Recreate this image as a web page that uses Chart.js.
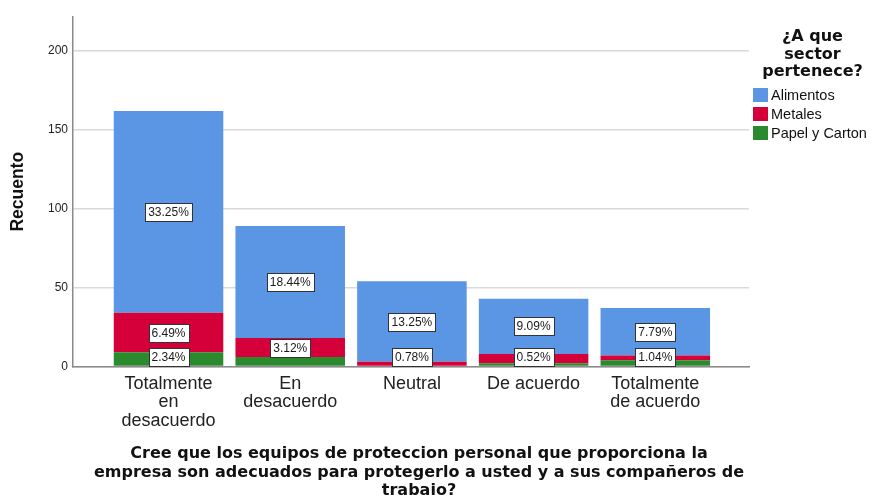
<!DOCTYPE html>
<html>
<head>
<meta charset="utf-8">
<script src="https://cdn.jsdelivr.net/npm/chart.js@4"></script>
<style>
    body { margin: 0; background: #fff; }
    #wrap { position: relative; width: 876px; height: 495px; overflow: hidden; font-family: "Liberation Sans", Arial, sans-serif; }
    #legend { position: absolute; left: 750px; top: 27px; width: 124px; color: #111; }
    #legend .ttl { text-align: center; font-family: "DejaVu Sans", sans-serif; font-weight: bold; font-size: 16px; line-height: 17.5px; margin-left: 1px; }
    #legend .item { position: relative; height: 19px; font-size: 14.5px; line-height: 19px; padding-left: 21px; white-space: nowrap; }
    #legend .item span { position: absolute; left: 3px; top: 2px; width: 15px; height: 14px; }
    #xtitle { position: absolute; left: 0; width: 838px; top: 444px; text-align: center; font-family: "DejaVu Sans", sans-serif; font-weight: bold; font-size: 16px; line-height: 18.5px; color: #111; }
</style>
</head>
<body>
<div id="wrap">
    <canvas id="chart" width="876" height="495"></canvas>
    <div id="legend"></div>
    <div id="xtitle"></div>
</div>
<script>
// categories on the x axis
const categories = [
    ['Totalmente', 'en', 'desacuerdo'],
    ['En', 'desacuerdo'],
    'Neutral',
    'De acuerdo',
    ['Totalmente', 'de acuerdo']
];

// counts per sector (Recuento)
const alimentos = [128, 71, 51, 35, 30];
const metales = [25, 12, 3, 6, 3];
const papel = [9, 6, 0, 2, 4];

// percentage labels as shown on the chart (null = not shown)
const alimentosPct = ['33.25%', '18.44%', '13.25%', '9.09%', '7.79%'];
const metalesPct = ['6.49%', '3.12%', '0.78%', null, null];
const papelPct = ['2.34%', null, null, '0.52%', '1.04%'];

const yTicks = [0, 50, 100, 150, 200];
const legendTitle = ['¿A que', 'sector', 'pertenece?'];
const xTitle = 'Cree que los equipos de proteccion personal que proporciona la<br>empresa son adecuados para protegerlo a usted y a sus compañeros de<br>trabajo?';

const colors = {
    Alimentos: '#5a96e3',
    Metales: '#d5003a',
    'Papel y Carton': '#2c8a2e'
};

// legend (html)
const legendEl = document.getElementById('legend');
legendEl.innerHTML = '<div class="ttl">' + legendTitle.join('<br>') + '</div><div style="height:6px"></div>';
['Alimentos', 'Metales', 'Papel y Carton'].forEach((name) => {
    const item = document.createElement('div');
    item.className = 'item';
    item.innerHTML = `<span style="background:${colors[name]}"></span>${name}`;
    legendEl.appendChild(item);
});
document.getElementById('xtitle').innerHTML = xTitle;

// white boxes with the percentages
const pctLabels = {
    id: 'pctLabels',
    afterDatasetsDraw(chart) {
        const ctx = chart.ctx;
        const zeroY = chart.scales.y.getPixelForValue(0);
        ctx.save();
        ctx.font = '12px "Liberation Sans", Arial, sans-serif';
        ctx.textAlign = 'center';
        ctx.textBaseline = 'middle';
        chart.data.datasets.forEach((ds, d) => {
            const meta = chart.getDatasetMeta(d);
            meta.data.forEach((bar, i) => {
                const txt = ds.pct[i];
                if (!txt) return;
                const boxH = 18;
                const boxW = Math.round(ctx.measureText(txt).width) + 6;
                let cy = (bar.y + bar.base) / 2;
                // keep the box above the axis line
                if (cy + boxH / 2 > zeroY - 1) cy = zeroY - 1 - boxH / 2;
                const bx = Math.round(bar.x - boxW / 2) + 0.5;
                const by = Math.round(cy - boxH / 2) + 0.5;
                ctx.fillStyle = '#fff';
                ctx.fillRect(bx, by, boxW, boxH);
                ctx.strokeStyle = '#333';
                ctx.lineWidth = 1;
                ctx.strokeRect(bx, by, boxW, boxH);
                ctx.fillStyle = '#1a1a1a';
                ctx.fillText(txt, bar.x, by + boxH / 2 + 0.5);
            });
        });
        ctx.restore();
    }
};

const toPoints = (arr) => arr.map((v, i) => ({ x: i, y: v }));

const chartEl = document.getElementById('chart').getContext('2d');
const dataChart = new Chart(chartEl, {
    type: 'bar',
    data: {
        datasets: [{
            label: 'Papel y Carton',
            data: toPoints(papel),
            pct: papelPct,
            backgroundColor: colors['Papel y Carton']
        }, {
            label: 'Metales',
            data: toPoints(metales),
            pct: metalesPct,
            backgroundColor: colors.Metales
        }, {
            label: 'Alimentos',
            data: toPoints(alimentos),
            pct: alimentosPct,
            backgroundColor: colors.Alimentos
        }]
    },
    options: {
        responsive: false,
        animation: false,
        barPercentage: 0.9,
        categoryPercentage: 1,
        layout: { padding: { top: 17, right: 127, left: 0, bottom: 0 } },
        plugins: {
            legend: { display: false },
            tooltip: { enabled: false }
        },
        scales: {
            x: {
                type: 'linear',
                stacked: true,
                offset: false,
                min: -0.785,
                max: 4.77,
                afterBuildTicks: (scale) => {
                    scale.ticks = categories.map((c, i) => ({ value: i }));
                },
                afterFit: (scale) => { scale.height = 128.5; },
                grid: { display: false, drawTicks: false, offset: false },
                border: { display: true, color: '#8a8a8a', width: 1.5 },
                ticks: {
                    autoSkip: false,
                    maxRotation: 0,
                    padding: 8,
                    color: '#222',
                    font: { family: '"Liberation Sans", Arial, sans-serif', size: 18, lineHeight: 1.03 },
                    callback: (v) => categories[v]
                }
            },
            y: {
                stacked: true,
                min: 0,
                max: 221.5,
                afterBuildTicks: (scale) => {
                    scale.ticks = yTicks.map((v) => ({ value: v }));
                },
                afterFit: (scale) => { scale.width = 73; },
                grid: { color: '#d9d9d9', lineWidth: 1.5, drawTicks: false },
                border: { display: true, color: '#8a8a8a', width: 1.5 },
                ticks: {
                    padding: 5,
                    color: '#222',
                    font: { family: '"Liberation Sans", Arial, sans-serif', size: 12 }
                },
                title: {
                    display: true,
                    text: 'Recuento',
                    color: '#111',
                    padding: { top: 8, bottom: 0 },
                    font: { family: '"Liberation Sans", Arial, sans-serif', size: 17.5, weight: 'bold' }
                }
            }
        }
    },
    plugins: [pctLabels]
});
</script>
</body>
</html>
